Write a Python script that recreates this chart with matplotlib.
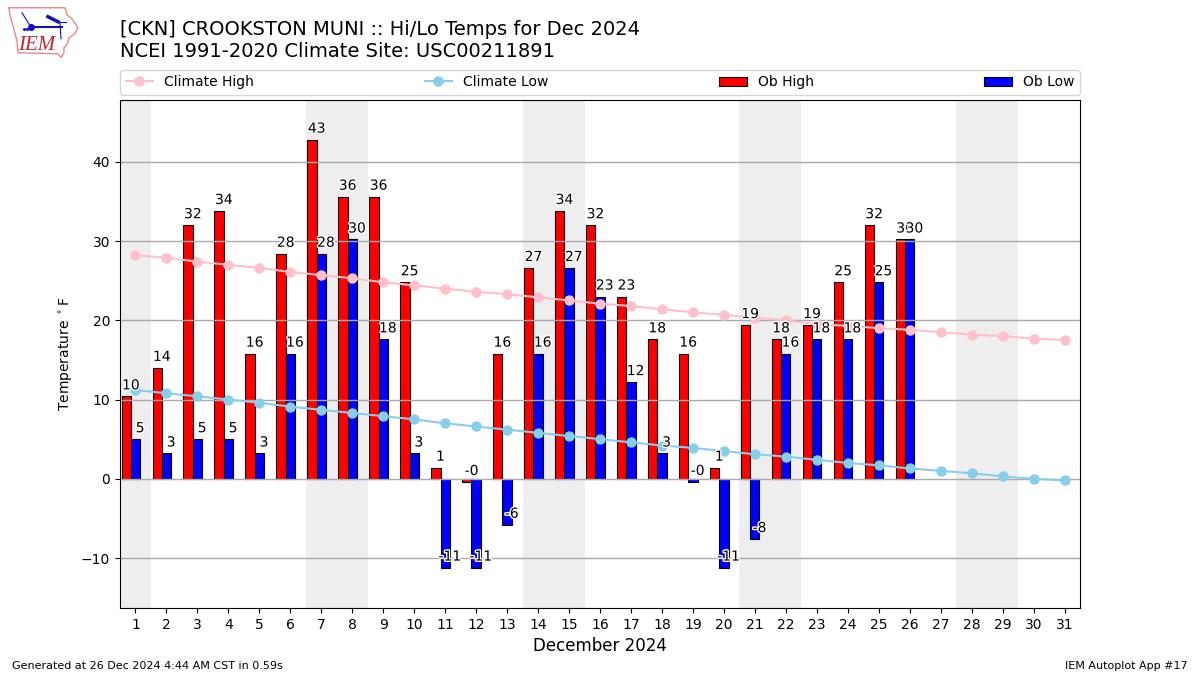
import matplotlib
matplotlib.use('Agg')
import matplotlib.pyplot as plt
import matplotlib.patheffects as PathEffects
import numpy as np

days = list(range(1, 32))
ob_days = list(range(1, 27))
ob_high = [10.4, 14.0, 32.0, 33.8, 15.8, 28.4, 42.8, 35.6, 35.6, 24.8, 1.4, -0.4, 15.8,
           26.6, 33.8, 32.0, 23.0, 17.6, 15.8, 1.4, 19.4, 17.6, 19.4, 24.8, 32.0, 30.2]
ob_low = [5.0, 3.2, 5.0, 5.0, 3.2, 15.8, 28.4, 30.2, 17.6, 3.2, -11.2, -11.2, -5.8,
          15.8, 26.6, 23.0, 12.2, 3.2, -0.4, -11.2, -7.6, 15.8, 17.6, 17.6, 24.8, 30.2]
climate_high = [28.2, 27.9, 27.4, 27.0, 26.6, 26.1, 25.7, 25.3, 24.8, 24.4, 24.0, 23.6,
                23.3, 22.9, 22.5, 22.1, 21.8, 21.4, 21.0, 20.7, 20.3, 20.0, 19.5, 19.3,
                19.0, 18.8, 18.5, 18.2, 18.0, 17.7, 17.5]
climate_low = [11.2, 10.8, 10.4, 10.0, 9.6, 9.1, 8.7, 8.3, 7.9, 7.5, 7.0, 6.6, 6.2, 5.8,
               5.4, 5.0, 4.6, 4.2, 3.9, 3.5, 3.1, 2.8, 2.4, 2.0, 1.7, 1.3, 1.0, 0.7, 0.3,
               0.0, -0.2]
weekend_spans = [(0.5, 1.5), (6.5, 8.5), (13.5, 15.5), (20.5, 22.5), (27.5, 29.5)]

fig = plt.figure(figsize=(12, 6.75), dpi=100)
ax = fig.add_axes([0.1, 0.0993, 0.8, 0.7526])

# weekends
for x0, x1 in weekend_spans:
    ax.axvspan(x0, x1, color='#eeeeee', lw=0, zorder=0)

ax.plot(days, climate_high, color='pink', marker='o', ms=6.5, lw=1.5, label='Climate High')
ax.plot(days, climate_low, color='skyblue', marker='o', ms=6.5, lw=1.5, label='Climate Low')

x = np.array(ob_days)
ax.bar(x - 0.3, ob_high, width=0.3, color='r', edgecolor='k', lw=0.8, label='Ob High')
ax.bar(x, ob_low, width=0.3, color='b', edgecolor='k', lw=0.8, label='Ob Low')

# labels sit just above the value, also for the negative bars
for d, hi, lo in zip(ob_days, ob_high, ob_low):
    for val, off in ((hi, -0.15), (lo, 0.15)):
        t = ax.text(d + off, val + 0.5, f'{val:.0f}',
                    ha='center', va='bottom', fontsize=10, zorder=5)
        t.set_path_effects([PathEffects.withStroke(linewidth=2, foreground='white')])

ax.set_xlim(0.5, 31.5)
ax.set_ylim(-16.3, 47.8)
ax.set_xticks(days)
ax.set_yticks([-10, 0, 10, 20, 30, 40])
ax.grid(axis='y', color='#aaaaaa', lw=1)
ax.xaxis.grid(False)
ax.set_xlabel('December 2024', fontsize=12)
ax.set_ylabel(r'Temperature $^\circ$F')

ax.legend(loc='lower left', bbox_to_anchor=(0, 1.01, 1, 0.05), ncol=4, mode='expand',
          borderaxespad=0, fontsize=10)

fig.text(0.1, 0.9415, '[CKN] CROOKSTON MUNI :: Hi/Lo Temps for Dec 2024', fontsize=14, va='bottom')
fig.text(0.1, 0.91, 'NCEI 1991-2020 Climate Site: USC00211891', fontsize=14, va='bottom')
fig.text(0.01, 0.0085, 'Generated at 26 Dec 2024 4:44 AM CST in 0.59s', fontsize=8)
fig.text(0.99, 0.0085, 'IEM Autoplot App #17', fontsize=8, ha='right')

# rough IEM logo, state outline plus the station sketch
logo = fig.add_axes([0, 0.91, 0.0708, 0.0889])
logo.set_xlim(0, 85)
logo.set_ylim(60, 0)
logo.axis('off')
outline_x = [9, 65, 67, 72, 78, 75, 69, 67, 64, 64, 61, 58, 18, 17, 13, 10, 9]
outline_y = [7, 7, 14, 18, 27, 33, 37, 44, 47, 52, 57, 53, 52, 40, 25, 14, 7]
logo.plot(outline_x, outline_y, color='#e88a8a', lw=1)
logo.plot([31, 62], [26, 26], color='#1010cc', lw=1.5)
logo.plot([31], [26], 'o', color='#1010cc', ms=4)
logo.plot([48, 58], [16, 21], color='#1010cc', lw=2.5)
logo.plot([58, 66], [21, 21], color='#1010cc', lw=0.8)
logo.plot([22, 30], [12, 25], color='#1010cc', lw=0.8)
logo.plot([60, 61], [22, 38], color='#1010cc', lw=0.8)
logo.plot([24, 27], [28, 28], 'o', color='#1010cc', ms=1.2)
logo.text(37, 45, 'IEM', color='#cc2030', family='Liberation Serif', style='italic',
          fontsize=15, ha='center', va='center')

fig.savefig('out.png', dpi=100)
